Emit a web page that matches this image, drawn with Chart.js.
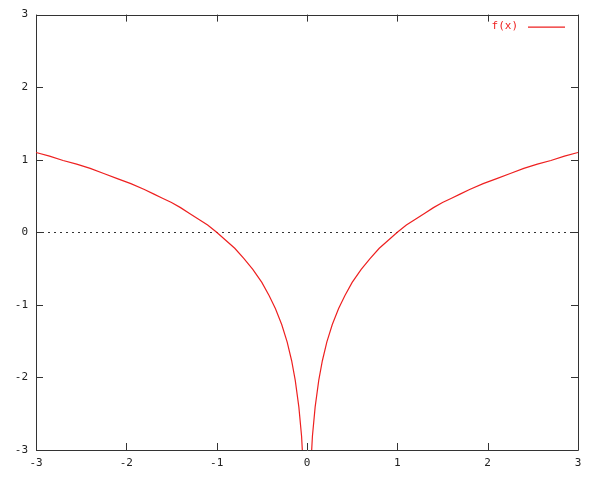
<!DOCTYPE html>
<html>
<head>
<meta charset="utf-8">
<script src="https://cdn.jsdelivr.net/npm/chart.js@4/dist/chart.umd.min.js"></script>
<style>
  html, body { margin: 0; padding: 0; background: #fff; }
  canvas { display: block; }
</style>
</head>
<body>
<canvas id="c" width="600" height="480"></canvas>
<script>
// Series f(x), values
const xValues = [-3.00, -2.85, -2.70, -2.55, -2.40, -2.25, -2.10, -1.95, -1.80, -1.70, -1.60, -1.50, -1.40, -1.30, -1.20, -1.10, -1.00, -0.90, -0.80, -0.70, -0.60, -0.50, -0.42, -0.35, -0.28, -0.22, -0.17, -0.13, -0.09, -0.06, -0.03,
                 0.03, 0.06, 0.09, 0.13, 0.17, 0.22, 0.28, 0.35, 0.42, 0.50, 0.60, 0.70, 0.80, 0.90, 1.00, 1.10, 1.20, 1.30, 1.40, 1.50, 1.60, 1.70, 1.80, 1.95, 2.10, 2.25, 2.40, 2.55, 2.70, 2.85, 3.00];
const yValues = [1.10, 1.05, 0.99, 0.94, 0.88, 0.81, 0.74, 0.67, 0.59, 0.53, 0.47, 0.41, 0.34, 0.26, 0.18, 0.10, 0.00, -0.11, -0.22, -0.36, -0.51, -0.69, -0.87, -1.05, -1.27, -1.51, -1.77, -2.04, -2.41, -2.81, -3.51,
                 -3.51, -2.81, -2.41, -2.04, -1.77, -1.51, -1.27, -1.05, -0.87, -0.69, -0.51, -0.36, -0.22, -0.11, 0.00, 0.10, 0.18, 0.26, 0.34, 0.41, 0.47, 0.53, 0.59, 0.67, 0.74, 0.81, 0.88, 0.94, 0.99, 1.05, 1.10];
const xTicks = [-3, -2, -1, 0, 1, 2, 3];
const yTicks = [-3, -2, -1, 0, 1, 2, 3];
const seriesLabel = 'f(x)';

const points = xValues.map((x, i) => ({ x: x, y: yValues[i] }));
const FONT = { family: '"DejaVu Sans Mono", monospace', size: 11 };
const TEXT = '#222';
const FRAME = '#333';
const RED = '#ee2020';

const framePlugin = {
  id: 'gnuFrame',
  beforeDatasetsDraw(chart) {
    const { ctx, chartArea: a, scales } = chart;
    const xs = scales.x, ys = scales.y;
    ctx.save();
    // zero axis (dotted)
    const y0 = Math.round(ys.getPixelForValue(0)) + 0.5;
    ctx.strokeStyle = '#333';
    ctx.lineWidth = 1;
    ctx.setLineDash([2, 4]);
    ctx.beginPath();
    ctx.moveTo(a.left, y0);
    ctx.lineTo(a.right, y0);
    ctx.stroke();
    ctx.setLineDash([]);
    // frame
    ctx.strokeStyle = FRAME;
    ctx.beginPath();
    ctx.rect(Math.round(a.left) + 0.5, Math.round(a.top) + 0.5, Math.round(a.right - a.left), Math.round(a.bottom - a.top));
    ctx.stroke();
    // inward ticks, mirrored on all sides
    const tl = 7;
    ctx.beginPath();
    xTicks.forEach(v => {
      const px = Math.round(xs.getPixelForValue(v)) + 0.5;
      ctx.moveTo(px, a.bottom); ctx.lineTo(px, a.bottom - tl);
      ctx.moveTo(px, a.top); ctx.lineTo(px, a.top + tl);
    });
    yTicks.forEach(v => {
      const py = Math.round(ys.getPixelForValue(v)) + 0.5;
      ctx.moveTo(a.left, py); ctx.lineTo(a.left + tl, py);
      ctx.moveTo(a.right, py); ctx.lineTo(a.right - tl, py);
    });
    ctx.stroke();
    ctx.restore();
  },
  afterDraw(chart) {
    const { ctx, chartArea: a } = chart;
    ctx.save();
    ctx.font = FONT.size + 'px ' + FONT.family;
    ctx.fillStyle = RED;
    ctx.textAlign = 'right';
    ctx.textBaseline = 'middle';
    const ly = a.top + 12;
    ctx.fillText(seriesLabel, a.right - 60, ly);
    ctx.strokeStyle = RED;
    ctx.lineWidth = 1.2;
    ctx.beginPath();
    ctx.moveTo(a.right - 50, ly + 0.5);
    ctx.lineTo(a.right - 13, ly + 0.5);
    ctx.stroke();
    ctx.restore();
  }
};

new Chart(document.getElementById('c'), {
  type: 'scatter',
  data: {
    datasets: [{
      label: seriesLabel,
      data: points,
      showLine: true,
      borderColor: RED,
      backgroundColor: RED,
      borderWidth: 1.2,
      pointRadius: 0,
      tension: 0
    }]
  },
  options: {
    responsive: false,
    animation: false,
    devicePixelRatio: 1,
    layout: { padding: { top: 14, right: 22, left: 0, bottom: 0 } },
    plugins: { legend: { display: false }, tooltip: { enabled: false } },
    scales: {
      x: {
        type: 'linear', min: -3, max: 3,
        afterFit: s => { s.height = 30; },
        afterBuildTicks: s => { s.ticks = xTicks.map(v => ({ value: v })); },
        ticks: { font: FONT, color: TEXT, padding: 7, maxRotation: 0 },
        grid: { display: false, drawTicks: false },
        border: { display: false }
      },
      y: {
        type: 'linear', min: -3, max: 3,
        afterFit: s => { s.width = 36; },
        afterBuildTicks: s => { s.ticks = yTicks.map(v => ({ value: v })); },
        ticks: { font: FONT, color: TEXT, padding: 8 },
        grid: { display: false, drawTicks: false },
        border: { display: false }
      }
    }
  },
  plugins: [framePlugin]
});
</script>
</body>
</html>
